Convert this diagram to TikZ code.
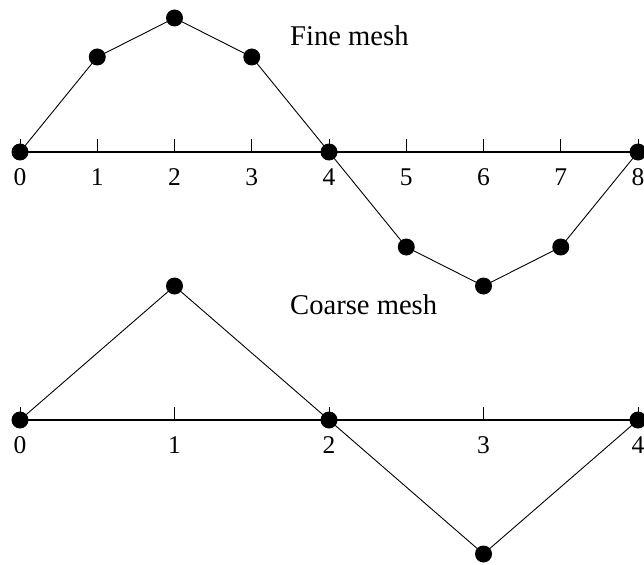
\documentclass[tikz,border=0pt]{standalone}
\usepackage{fontspec}
\setmainfont{Liberation Serif}
\begin{document}
\begin{tikzpicture}[x=1pt,y=-1pt,
  dot/.style={circle,fill=black,inner sep=0pt,minimum size=17pt},
  axisline/.style={line width=2.2pt},
  curve/.style={line width=0.9pt},
  tick/.style={line width=0.9pt},
  lab/.style={font=\fontsize{25.5}{30}\selectfont,anchor=base,inner sep=0pt},
  title/.style={font=\fontsize{28.6}{32}\selectfont,anchor=base west,inner sep=0pt}]
\useasboundingbox (0,0) rectangle (644,564);
% fine mesh
\foreach \i/\y in {0/152,1/57,2/18,3/57,4/152,5/247,6/286,7/247,8/152}{
  \coordinate (fp\i) at ({20+77.25*\i},\y);
  \coordinate (fa\i) at ({20+77.25*\i},152);
  \coordinate (ft\i) at ({20+77.25*\i},139);
  \node[lab] (fl\i) at ({20+77.25*\i},185) {\i};
}
\draw[axisline] (fa0) -- (fa8);
\foreach \i in {0,...,8}{\draw[tick] (fa\i) -- (ft\i);}
\draw[curve] (fp0) -- (fp1) -- (fp2) -- (fp3) -- (fp4) -- (fp5) -- (fp6) -- (fp7) -- (fp8);
\foreach \i in {0,...,8}{\node[dot] (fd\i) at (fp\i) {};}
\node[title] (fine) at (290,46) {Fine mesh};
% coarse mesh
\foreach \i/\y in {0/420,1/286,2/420,3/554,4/420}{
  \coordinate (cp\i) at ({20+154.5*\i},\y);
  \coordinate (ca\i) at ({20+154.5*\i},420);
  \coordinate (ct\i) at ({20+154.5*\i},407);
  \node[lab] (cl\i) at ({20+154.5*\i},453) {\i};
}
\draw[axisline] (ca0) -- (ca4);
\foreach \i in {0,...,4}{\draw[tick] (ca\i) -- (ct\i);}
\draw[curve] (cp0) -- (cp1) -- (cp2) -- (cp3) -- (cp4);
\foreach \i in {0,...,4}{\node[dot] (cd\i) at (cp\i) {};}
\node[title] (coarse) at (290,314) {Coarse mesh};
\end{tikzpicture}
\end{document}
